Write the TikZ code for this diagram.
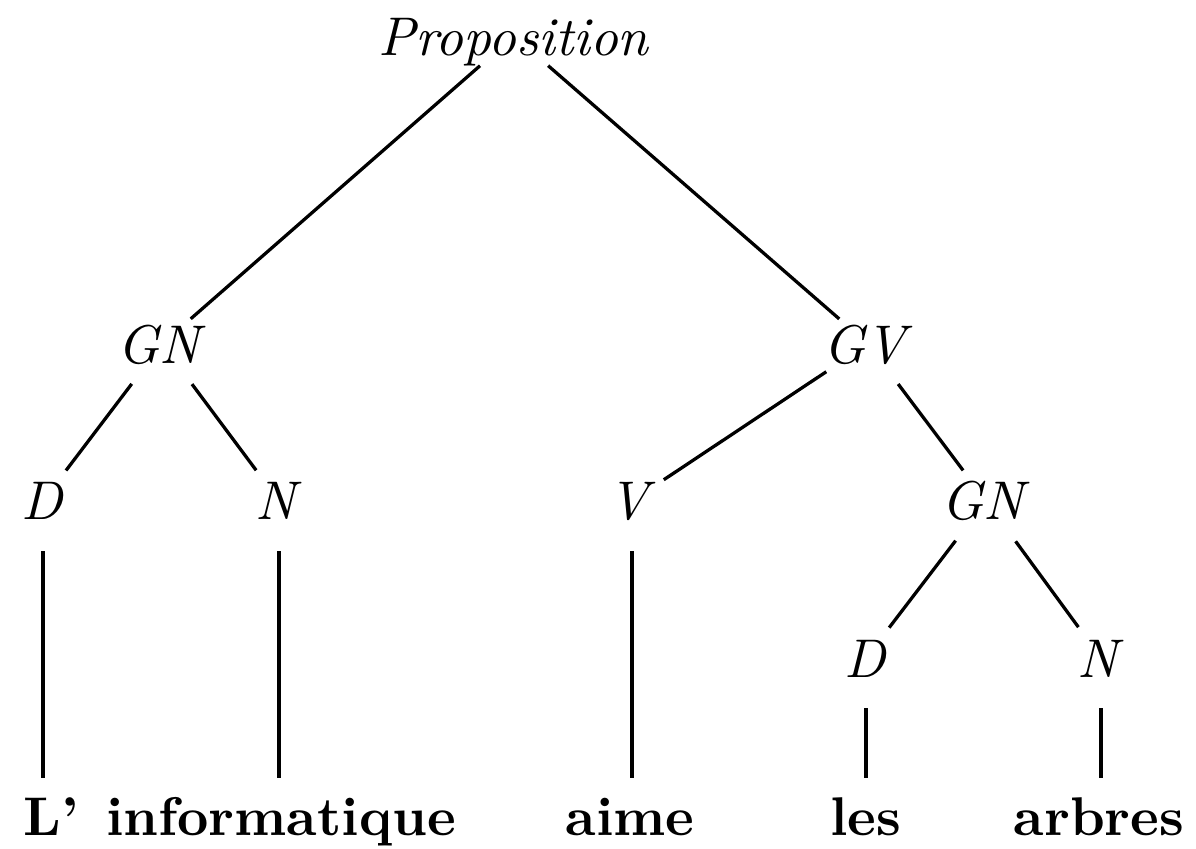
\documentclass[tikz,border=0pt]{standalone}
\usepackage{amsmath}
\usepackage{xcolor}
\usepackage{tikz}

\begin{document}
\begin{tikzpicture}[
    every node/.style={inner sep=0pt, text height=7pt, text depth=0pt, anchor=base},
    tree edge/.style={semithick, shorten <=9.2pt, shorten >=7pt}
    ]

    \useasboundingbox (0,0) rectangle (7.713,-5.475);

    % categories
    \node[] (prop) at (3.315,-0.355) {\textit{Proposition}};

    \node[] (gn1) at (1.045,-2.341) {\textit{GN}};
    \node[] (gv) at (5.598,-2.341) {\textit{GV}};

    \node[] (d1) at (0.277,-3.353) {\textit{D}};
    \node[] (n1) at (1.799,-3.353) {\textit{N}};
    \node[] (v) at (4.076,-3.353) {\textit{V}};
    \node[] (gn2) at (6.359,-3.353) {\textit{GN}};

    \node[] (d2) at (5.585,-4.366) {\textit{D}};
    \node[] (n2) at (7.100,-4.366) {\textit{N}};

    % words
    \node[] (l) at (0.329,-5.385) {\textbf{L'}};
    \node[] (inf) at (1.812,-5.385) {\textbf{informatique}};
    \node[] (aime) at (4.063,-5.385) {\textbf{aime}};
    \node[] (les) at (5.585,-5.385) {\textbf{les}};
    \node[] (arbres) at (7.087,-5.385) {\textbf{arbres}};

    \path[tree edge]
    %proposition
    (prop.center) edge [shorten <=8.3pt] (gn1.center)
    (prop.center) edge [shorten <=8.3pt] (gv.center)
    %left GN
    (gn1.center) edge [] (d1.center)
    (gn1.center) edge [] (n1.center)
    %GV
    (gv.center) edge [] (v.center)
    (gv.center) edge [] (gn2.center)
    (gn2.center) edge [] (d2.center)
    (gn2.center) edge [] (n2.center)
    %leaves
    (d1.center) edge [] (d1.center |- l.center)
    (n1.center) edge [] (n1.center |- inf.center)
    (v.center) edge [] (v.center |- aime.center)
    (d2.center) edge [] (d2.center |- les.center)
    (n2.center) edge [] (n2.center |- arbres.center);

\end{tikzpicture}
\end{document}
